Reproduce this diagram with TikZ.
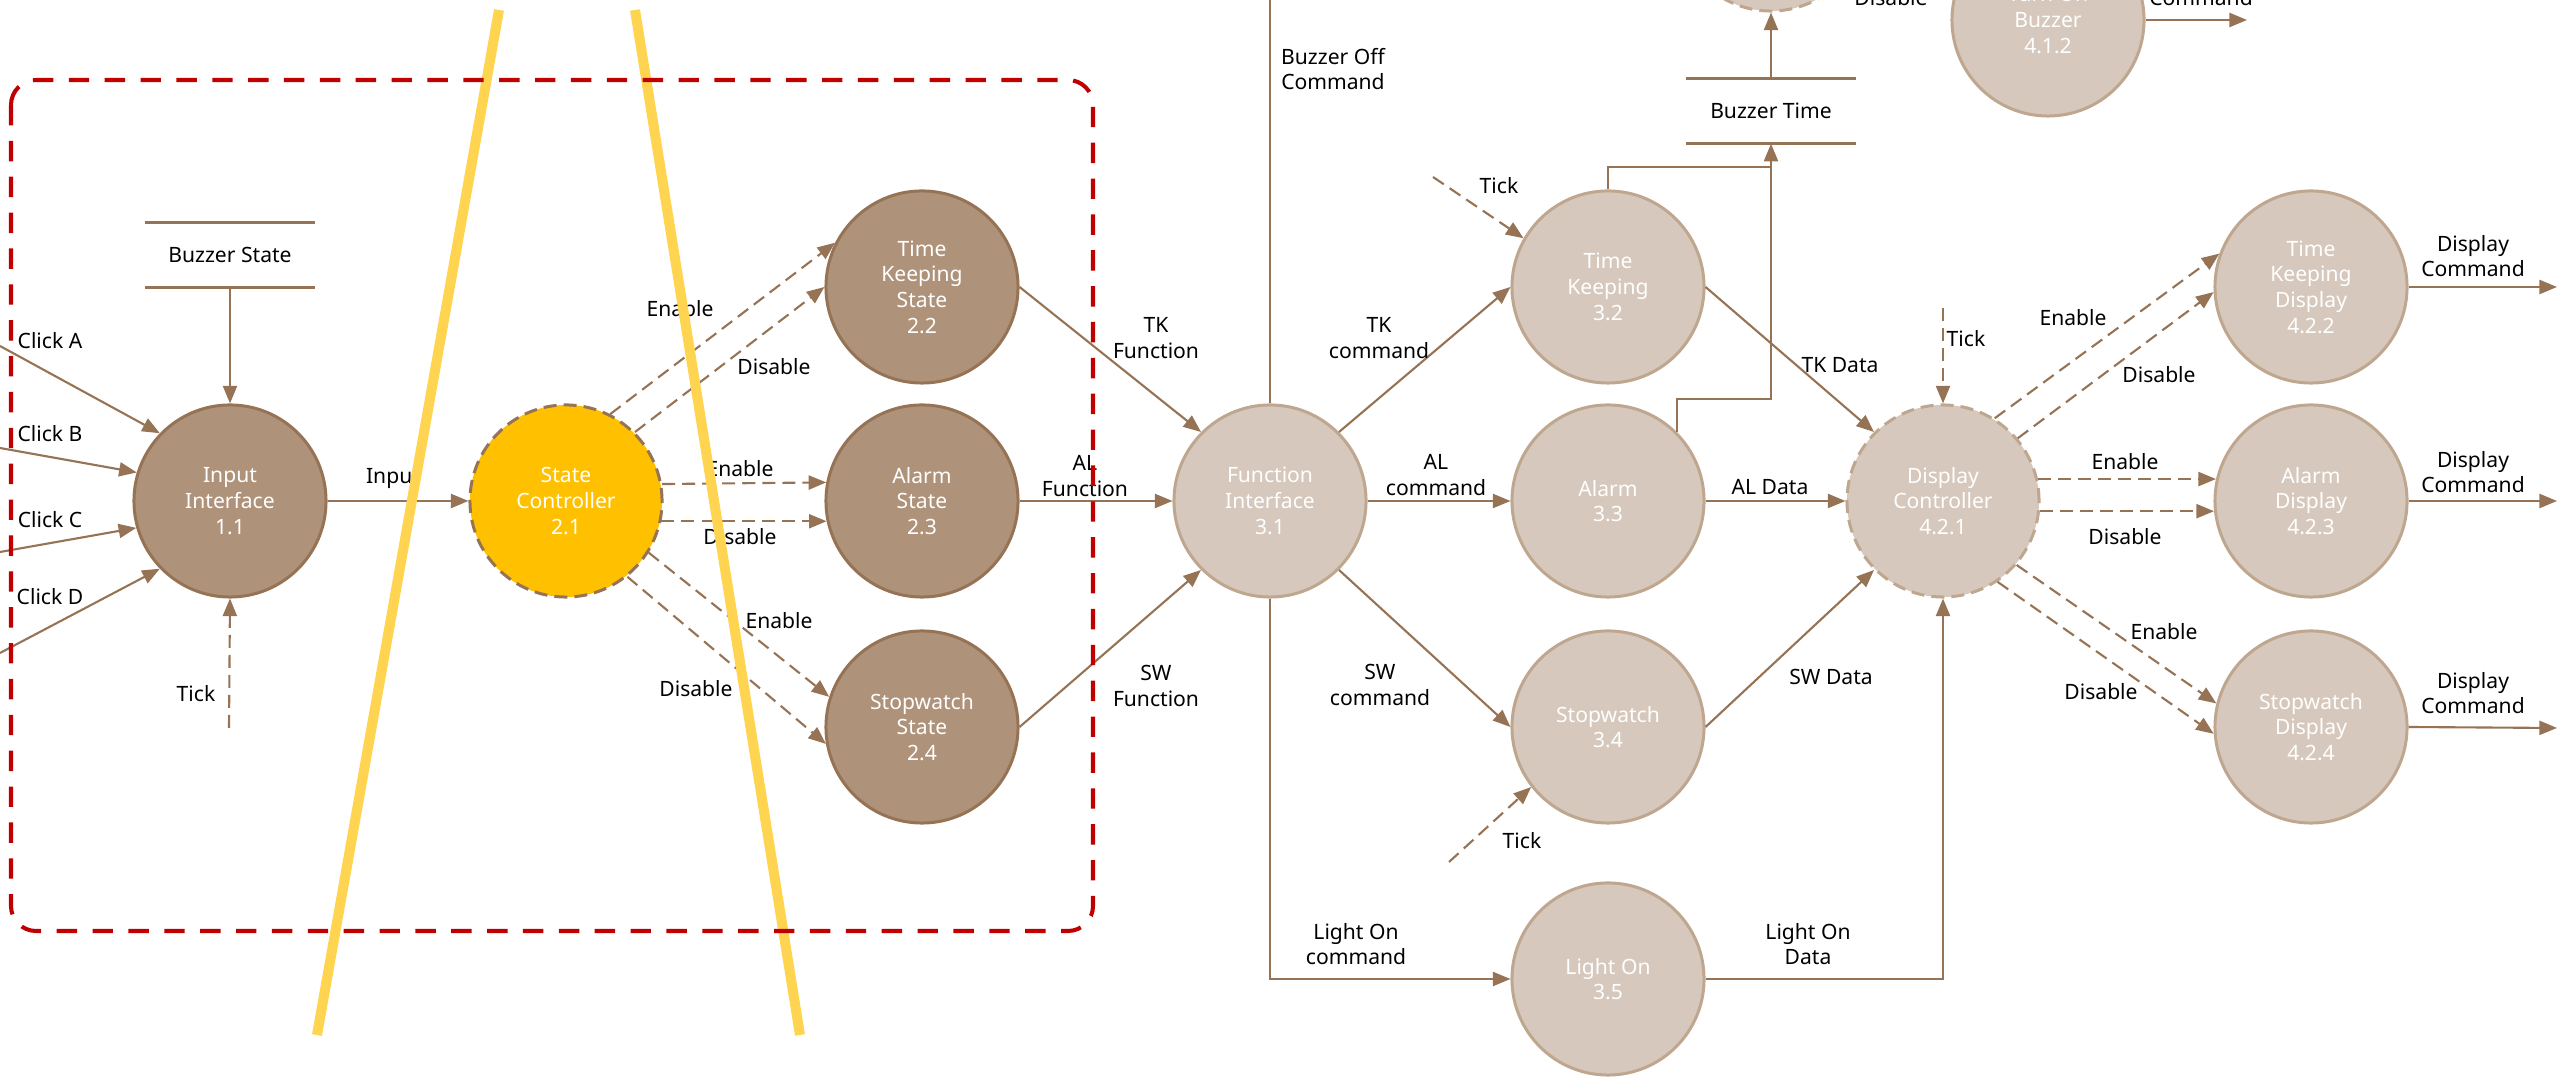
\documentclass[tikz,border=0pt]{standalone}
\usepackage{fontspec}
\setmainfont{Noto Sans}
\usetikzlibrary{arrows.meta}
\definecolor{procdark}{RGB}{174,146,122}
\definecolor{linedark}{RGB}{150,115,85}
\definecolor{proclight}{RGB}{214,200,188}
\definecolor{linelight}{RGB}{191,166,143}
\definecolor{ctrlyellow}{RGB}{255,192,0}
\definecolor{markyellow}{RGB}{255,212,80}
\definecolor{markred}{RGB}{192,0,0}
\tikzset{
  proc/.style={circle, minimum size=1.92cm, inner sep=0pt, line width=0.85pt,
    text=white, align=center, font=\fontsize{6}{7.3}\selectfont},
  procdk/.style={proc, fill=procdark, draw=linedark},
  proclt/.style={proc, fill=proclight, draw=linelight},
  ctrlproc/.style={dash pattern=on 3.7pt off 2pt},
  lbl/.style={align=center, inner sep=0pt, font=\fontsize{6}{7.3}\selectfont},
  store/.style={lbl, minimum width=1.68cm, minimum height=0.64cm},
  wire/.style={draw=linedark, line width=0.6pt},
  flow/.style={wire, -{Triangle[length=5pt,width=4pt]}},
  ctrl/.style={flow, dash pattern=on 3.7pt off 2pt},
}
\begin{document}
\begin{tikzpicture}[x=0.01cm, y=-0.01cm]
  \clip (0,0) rectangle (2560,1077);

  \node[procdk] (in11) at (230,501) {Input\\Interface\\1.1};
  \node[procdk, fill=ctrlyellow, ctrlproc] (sc21) at (566,501) {State\\Controller\\2.1};
  \node[procdk] (tks22) at (922,287) {Time\\Keeping\\State\\2.2};
  \node[procdk] (als23) at (922,501) {Alarm\\State\\2.3};
  \node[procdk] (sws24) at (922,727) {Stopwatch\\State\\2.4};
  \node[proclt] (fi31) at (1270,501) {Function\\Interface\\3.1};
  \node[proclt] (tk32) at (1608,287) {Time\\Keeping\\3.2};
  \node[proclt] (al33) at (1608,501) {Alarm\\3.3};
  \node[proclt] (sw34) at (1608,727) {Stopwatch\\3.4};
  \node[proclt] (lo35) at (1608,979) {Light On\\3.5};
  \node[proclt, ctrlproc] (dc421) at (1943,501) {Display\\Controller\\4.2.1};
  \node[proclt] (tkd422) at (2311,287) {Time\\Keeping\\Display\\4.2.2};
  \node[proclt] (ald423) at (2311,501) {Alarm\\Display\\4.2.3};
  \node[proclt] (swd424) at (2311,727) {Stopwatch\\Display\\4.2.4};
  \node[proclt] (tob412) at (2048,20) {Turn On\\Buzzer\\4.1.2};
  \node[proclt, ctrlproc] (bzc) at (1771,-85) {};

  \node[store] (bst) at (230,255) {Buzzer State};
  \node[store] (btm) at (1771,111) {Buzzer Time};
  \draw[linedark, line width=1pt] (bst.north west) -- (bst.north east)
    (bst.south west) -- (bst.south east);
  \draw[linedark, line width=1pt] (btm.north west) -- (btm.north east)
    (btm.south west) -- (btm.south east);

  \coordinate (clka) at (0,346);
  \coordinate (clkb) at (0,448);
  \coordinate (clkc) at (0,552);
  \coordinate (clkd) at (0,653);
  \coordinate (tick1) at (229,728);
  \coordinate (tick2) at (1433,177);
  \coordinate (tick3) at (1449,862);
  \coordinate (tick4) at (1943,308);
  \coordinate (boff) at (1270,-5);
  \coordinate (bjt) at (1771,167);
  \coordinate (bja) at (1771,399);
  \coordinate (out1) at (2557,287);
  \coordinate (out2) at (2557,501);
  \coordinate (out3) at (2557,728);
  \coordinate (out4) at (2247,20);

  \draw[flow] (clka) -- (in11.136);
  \draw[flow] (clkb) -- (in11.163);
  \draw[flow] (clkc) -- (in11.196);
  \draw[flow] (clkd) -- (in11.224);
  \draw[flow] (bst.south) -- (in11.north);
  \draw[ctrl] (tick1) -- (in11.south);
  \draw[flow] (in11.east) -- (sc21.west);

  \draw[ctrl] (sc21.63) -- (tks22.153);
  \draw[ctrl] (sc21.45) -- (tks22.180);
  \draw[ctrl] (sc21.10.7) -- (als23.169.3);
  \draw[ctrl] (sc21.-12.5) -- (als23.192.5);
  \draw[ctrl] (sc21.-32) -- (sws24.162);
  \draw[ctrl] (sc21.-51) -- (sws24.190);

  \draw[flow] (tks22.east) -- (fi31.135);
  \draw[flow] (als23.east) -- (fi31.west);
  \draw[flow] (sws24.east) -- (fi31.225);

  \draw[wire] (fi31.north) -- (boff);
  \draw[flow] (fi31.45) -- (tk32.west);
  \draw[flow] (fi31.east) -- (al33.west);
  \draw[flow] (fi31.-45) -- (sw34.west);
  \draw[flow] (fi31.south) |- (lo35.west);

  \draw[ctrl] (tick2) -- (tk32.150);
  \draw[ctrl] (tick3) -- (sw34.218);
  \draw[ctrl] (tick4) -- (dc421.north);

  \draw[wire] (tk32.north) |- (bjt);
  \draw[flow] (al33.45) |- (bja) -- (btm.south);
  \draw[flow] (btm.north) -- (bzc.south);

  \draw[flow] (tk32.east) -- (dc421.135);
  \draw[flow] (al33.east) -- (dc421.west);
  \draw[flow] (sw34.east) -- (dc421.225);
  \draw[flow] (lo35.east) -| (dc421.south);

  \draw[ctrl] (dc421.58) -- (tkd422.160);
  \draw[ctrl] (dc421.40) -- (tkd422.183);
  \draw[ctrl] (dc421.13) -- (ald423.167);
  \draw[ctrl] (dc421.-6.5) -- (ald423.186.5);
  \draw[ctrl] (dc421.-41) -- (swd424.166);
  \draw[ctrl] (dc421.-56) -- (swd424.184);

  \draw[flow] (tkd422.east) -- (out1);
  \draw[flow] (ald423.east) -- (out2);
  \draw[flow] (swd424.east) -- (out3);
  \draw[flow] (tob412.east) -- (out4);

  \node[lbl] (lclka) at (50,341) {Click A};
  \node[lbl] (lclkb) at (50,434) {Click B};
  \node[lbl] (lclkc) at (50,520) {Click C};
  \node[lbl] (lclkd) at (50,597) {Click D};
  \node[lbl] (ltick1) at (196,694) {Tick};
  \node[lbl] (linput) at (393,479) {Input};
  \node[lbl] (len22) at (680,309) {Enable};
  \node[lbl] (ldis22) at (774,367) {Disable};
  \node[lbl] (len23) at (740,469) {Enable};
  \node[lbl] (ldis23) at (740,537) {Disable};
  \node[lbl] (len24) at (779,621) {Enable};
  \node[lbl] (ldis24) at (696,689) {Disable};
  \node[lbl] (ltkf) at (1156,338) {TK\\Function};
  \node[lbl] (lalf) at (1085,476) {AL\\Function};
  \node[lbl] (lswf) at (1156,686) {SW\\Function};
  \node[lbl] (lboff) at (1333,69) {Buzzer Off\\Command};
  \node[lbl] (ltkc) at (1379,338) {TK\\command};
  \node[lbl] (lalc) at (1436,475) {AL\\command};
  \node[lbl] (lswc) at (1380,685) {SW\\command};
  \node[lbl] (lloc) at (1356,944) {Light On\\command};
  \node[lbl] (ltick2) at (1499,186) {Tick};
  \node[lbl] (ltick3) at (1522,841) {Tick};
  \node[lbl] (ltick4) at (1966,339) {Tick};
  \node[lbl] (ltkd) at (1840,365) {TK Data};
  \node[lbl] (lald) at (1770,487) {AL Data};
  \node[lbl] (lswd) at (1831,677) {SW Data};
  \node[lbl] (llod) at (1808,944) {Light On\\Data};
  \node[lbl] (len422) at (2073,318) {Enable};
  \node[lbl] (ldis422) at (2159,375) {Disable};
  \node[lbl] (len423) at (2125,462) {Enable};
  \node[lbl] (ldis423) at (2125,537) {Disable};
  \node[lbl] (len424) at (2164,632) {Enable};
  \node[lbl] (ldis424) at (2101,692) {Disable};
  \node[lbl] (ldc1) at (2473,256) {Display\\Command};
  \node[lbl] (ldc2) at (2473,472) {Display\\Command};
  \node[lbl] (ldc3) at (2473,693) {Display\\Command};
  \node[lbl, anchor=base] (ldis0) at (1891,6) {Disable};
  \node[lbl, anchor=base] (lcmd0) at (2201,6) {Command};

  \draw[markyellow, line width=2.85pt] (499,10) -- (317,1035);
  \draw[markyellow, line width=2.85pt] (635,10) -- (800,1035);
  \draw[markred, line width=1.15pt, dash pattern=on 5.8pt off 4.4pt,
    rounded corners=0.25cm] (11,80) rectangle (1093,931);
\end{tikzpicture}
\end{document}
